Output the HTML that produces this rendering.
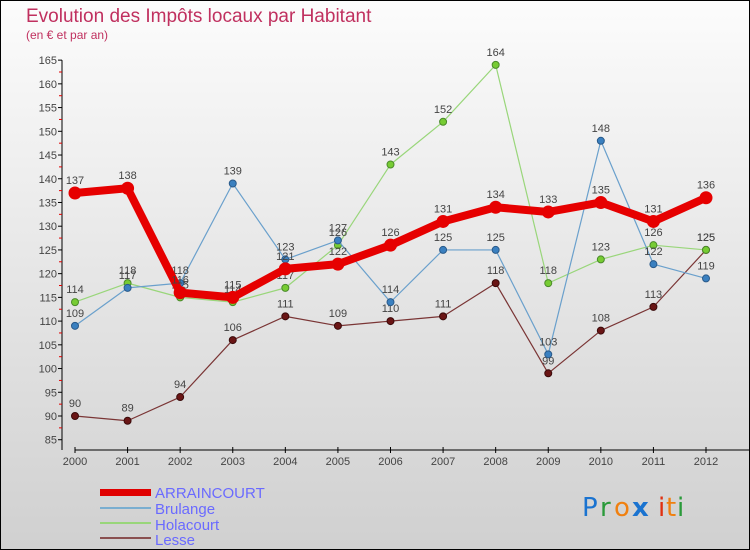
<!DOCTYPE html>
<html><head><meta charset="utf-8"><style>
body{margin:0}
#c{width:750px;height:550px;position:relative;overflow:hidden;font-family:"Liberation Sans",sans-serif}
</style></head><body>
<div id="c">
<svg id="svg" width="750" height="550" xmlns="http://www.w3.org/2000/svg">
<defs><linearGradient id="bg" x1="0" y1="0" x2="0" y2="1"><stop offset="0" stop-color="#fcfcfc"/><stop offset="1" stop-color="#d0d0d0"/></linearGradient></defs>
<rect x="0.5" y="0.5" width="749" height="549" fill="url(#bg)" stroke="#000"/>
<text x="26" y="22" font-size="19" fill="#c0305f">Evolution des Impôts locaux par Habitant</text>
<text x="26" y="39" font-size="12" fill="#c0305f">(en € et par an)</text>
<g id="axes"></g><g id="series"></g>
<g>
<rect x="100" y="489" width="51" height="7" fill="#e00000"/>
<text x="155" y="498" font-size="15" fill="#6a6aff">ARRAINCOURT</text>
<rect x="100" y="507" width="51" height="2" fill="#7aaed0"/>
<text x="155" y="514" font-size="15" fill="#6a6aff">Brulange</text>
<rect x="100" y="522" width="51" height="2" fill="#99d67a"/>
<text x="155" y="530" font-size="15" fill="#6a6aff">Holacourt</text>
<rect x="100" y="537" width="51" height="2" fill="#8a5050"/>
<text x="155" y="545" font-size="15" fill="#6a6aff">Lesse</text>
</g>
<g font-size="26" font-family="'DejaVu Sans',sans-serif">
<text x="582" y="516" fill="#1a73d0">P</text><text x="600" y="516" fill="#2a9a3a">r</text><text x="614" y="516" fill="#f08010">o</text><text x="632" y="516" fill="#1a73d0" font-weight="bold">x</text><text x="658" y="516" fill="#e03010">i</text><text x="666" y="516" fill="#f08010">t</text><text x="677" y="516" fill="#2a9a3a">i</text>
</g>
</svg></div>
<script>
const years=[2000,2001,2002,2003,2004,2005,2006,2007,2008,2009,2010,2011,2012];
const yTicks=[85,90,95,100,105,110,115,120,125,130,135,140,145,150,155,160,165];
const arraincourt=[137,138,116,115,121,122,126,131,134,133,135,131,136];
const brulange=[109,117,118,139,123,127,114,125,125,103,148,122,119];
const holacourt=[114,118,115,114,117,126,143,152,164,118,123,126,125];
const lesse=[90,89,94,106,111,109,110,111,118,99,108,113,125];
const NS='http://www.w3.org/2000/svg';
function xS(i){return 75+i*(706-75)/12;}
function yS(v){return 416-(v-90)*4.745;}
function mk(t,a,p){const e=document.createElementNS(NS,t);for(const k in a)e.setAttribute(k,a[k]);p.appendChild(e);return e;}
const ax=document.getElementById('axes');
let l=mk('line',{x1:62,y1:yS(165),x2:62,y2:450,stroke:'#000'},ax);


l=mk('line',{x1:75,y1:450,x2:750,y2:450,stroke:'#000'},ax);


yTicks.forEach(v=>{
 mk('line',{x1:58,y1:yS(v),x2:62,y2:yS(v),stroke:'#000'},ax);
 if(v<165)mk('line',{x1:59,y1:yS(v+2.5),x2:62,y2:yS(v+2.5),stroke:'#e00000'},ax);
 const t=mk('text',{x:57,y:yS(v)+4,'font-size':11,fill:'#444','text-anchor':'end'},ax);t.textContent=v;
 
 
});
years.forEach((y,i)=>{
 mk('line',{x1:xS(i),y1:447,x2:xS(i),y2:453,stroke:'#000'},ax);
 const t=mk('text',{x:xS(i),y:465,'font-size':11,fill:'#444','text-anchor':'middle'},ax);t.textContent=y;
 
 
});
const sg=document.getElementById('series');
function draw(data,name,color,w,r,dot,dotStroke){
 const g=mk('g',{},sg);
 
 
 const p=mk('polyline',{points:data.map((v,i)=>xS(i)+','+yS(v)).join(' '),fill:'none',stroke:color,'stroke-width':w,'stroke-linejoin':'round'},g);
 
 
 data.forEach((v,i)=>{
  const c=mk('circle',{cx:xS(i),cy:yS(v),r:r,fill:dot,stroke:dotStroke,'stroke-width':1},g);
  
  
  const t=mk('text',{x:xS(i),y:yS(v)-9,'font-size':11,fill:'#444','text-anchor':'middle'},g);t.textContent=v;
  
  
 });
}
draw(lesse,'lesse','#7a3535',1.2,3.5,'#6a1515','#3a0a0a');
draw(holacourt,'holacourt','#99d67a',1.2,3.5,'#77cc33','#4a8a2a');
draw(brulange,'brulange','#6aa0cc',1.2,3.5,'#3a80c0','#2a5a8a');
draw(arraincourt,'arraincourt','#e60000',8,6,'#e60000','#e60000');
</script>
</body></html>
